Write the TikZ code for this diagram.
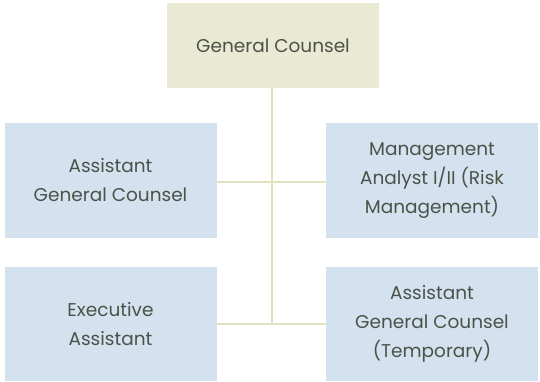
\documentclass[tikz,border=0pt]{standalone}
\usepackage{fontspec}
\setmainfont{Poppins}
\usepackage{tikz}
\definecolor{boxtan}{HTML}{E9E9D4}
\definecolor{boxblue}{HTML}{D4E1EE}
\definecolor{linetan}{HTML}{E2E2C0}
\definecolor{txtgray}{HTML}{4B5349}
\tikzset{
    role/.style={fill=boxblue, text=txtgray, align=center, inner sep=0pt,
        minimum width=212pt, font=\fontsize{18.5}{29}\selectfont},
    chief/.style={role, fill=boxtan, minimum height=85pt},
    link/.style={linetan, line width=2.6pt}
}

\begin{document}
\begin{tikzpicture}[x=1pt, y=-1pt]
    \useasboundingbox (0,0) rectangle (540,381);

    % Head of the office
    \node[chief] (gc) at (273, 45.5) {General Counsel};

    % Middle row
    \node[role, minimum height=115pt] (agc) at (110.5, 180.5) {Assistant\\General Counsel};
    \node[role, minimum height=115pt] (analyst) at (432, 180.5) {Management\\Analyst I/II (Risk\\Management)};

    % Bottom row
    \node[role, minimum height=114pt] (exec) at (110.5, 324) {Executive\\Assistant};
    \node[role, minimum height=114pt] (agctemp) at (432, 324) {Assistant\\General Counsel\\(Temporary)};

    % Lines between them
    \draw[link] ([yshift=-1.5pt]agc.east) -- ([yshift=-1.5pt]analyst.west);
    \draw[link] (exec.east) -- (agctemp.west);
    \draw[link] ([xshift=-1pt]gc.south) -- ([xshift=-1pt]gc.south |- exec.east);
\end{tikzpicture}
\end{document}
